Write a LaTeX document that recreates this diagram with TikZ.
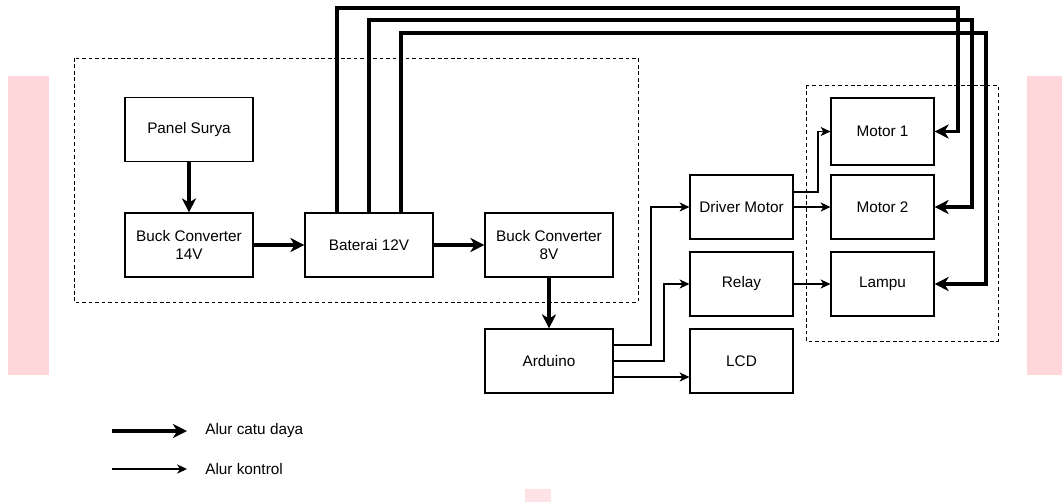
\documentclass[tikz,border=0pt]{standalone}
\usepackage{fontspec}
\setmainfont{Liberation Sans}
\usetikzlibrary{arrows.meta}
\definecolor{wmpink}{RGB}{255,214,218}
\tikzset{
  block/.style={draw=black, line width=0.8pt, minimum width=3.2cm, minimum height=1.6cm, inner sep=0pt, align=center, font=\fontsize{10.9}{12.8}\selectfont},
  smallblock/.style={block, minimum width=2.575cm},
  group/.style={draw=black, line width=0.7pt, dash pattern=on 2.6pt off 2pt},
  power/.style={line width=2.2pt, draw=black, -{Stealth[length=10pt, width=10pt, inset=3pt]}},
  control/.style={line width=0.8pt, draw=black, -{Stealth[length=7pt, width=6.5pt, inset=2pt]}},
  legendlabel/.style={anchor=west, inner sep=0pt, font=\fontsize{10.9}{12.8}\selectfont},
}

\begin{document}
\begin{tikzpicture}[x=0.025cm, y=-0.025cm]
\useasboundingbox (0,0) rectangle (1062,502);
% watermark strips
\fill[wmpink] (8,76) rectangle (49,375);
\fill[wmpink] (1027,76) rectangle (1062,375);
\fill[wmpink!70] (525,489) rectangle (551,502);
% groups
\draw[group] (74,58) rectangle (638,302);
\draw[group] (806,85) rectangle (998,341);
% blocks
\node[block] (ps) at (189,129.5) {Panel Surya};
\node[block] (b14) at (189,245) {Buck Converter\\14V};
\node[block] (bat) at (369,245) {Baterai 12V};
\node[block] (b8) at (549,245) {Buck Converter\\8V};
\node[block] (ard) at (549,361) {Arduino};
\node[smallblock] (drv) at (741.5,207) {Driver Motor};
\node[smallblock] (rel) at (741.5,284) {Relay};
\node[smallblock] (lcd) at (741.5,361) {LCD};
\node[smallblock, minimum height=1.675cm] (m1) at (882.5,131.5) {Motor 1};
\node[smallblock] (m2) at (882.5,207) {Motor 2};
\node[smallblock] (lamp) at (882.5,284) {Lampu};
% route points
\coordinate (r1) at (958,8);
\coordinate (r2) at (972,20);
\coordinate (r3) at (986,33);
\coordinate (k1) at (818,0);
\coordinate (k2) at (651,0);
\coordinate (k3) at (664,0);
% power flow
\draw[power] (ps) -- (b14);
\draw[power] (b14) -- (bat);
\draw[power] (bat) -- (b8);
\draw[power] (b8) -- (ard);
\draw[power] ([xshift=-0.8cm]bat.north) |- (r1) |- (m1.east);
\draw[power] (bat.north) |- (r2) |- (m2.east);
\draw[power] ([xshift=0.8cm]bat.north) |- (r3) |- (lamp.east);
% control flow
\draw[control] ([yshift=0.4cm]ard.east) -| (k2 |- drv.west) -- (drv.west);
\draw[control] (ard.east) -| (k3 |- rel.west) -- (rel.west);
\draw[control] ([yshift=-0.4cm]ard.east) -- ([yshift=-0.4cm]ard.east -| lcd.west);
\draw[control] ([yshift=0.375cm]drv.east) -| (k1 |- m1.west) -- (m1.west);
\draw[control] (drv) -- (m2);
\draw[control] (rel) -- (lamp);
% legend
\coordinate (lg1) at (112,431);
\coordinate (lg2) at (112,469);
\node[legendlabel] (lt1) at (205,431) {Alur catu daya};
\node[legendlabel] (lt2) at (205,469) {Alur kontrol};
\draw[power] (lg1) -- ++(75,0);
\draw[control] (lg2) -- ++(75,0);
\end{tikzpicture}
\end{document}
